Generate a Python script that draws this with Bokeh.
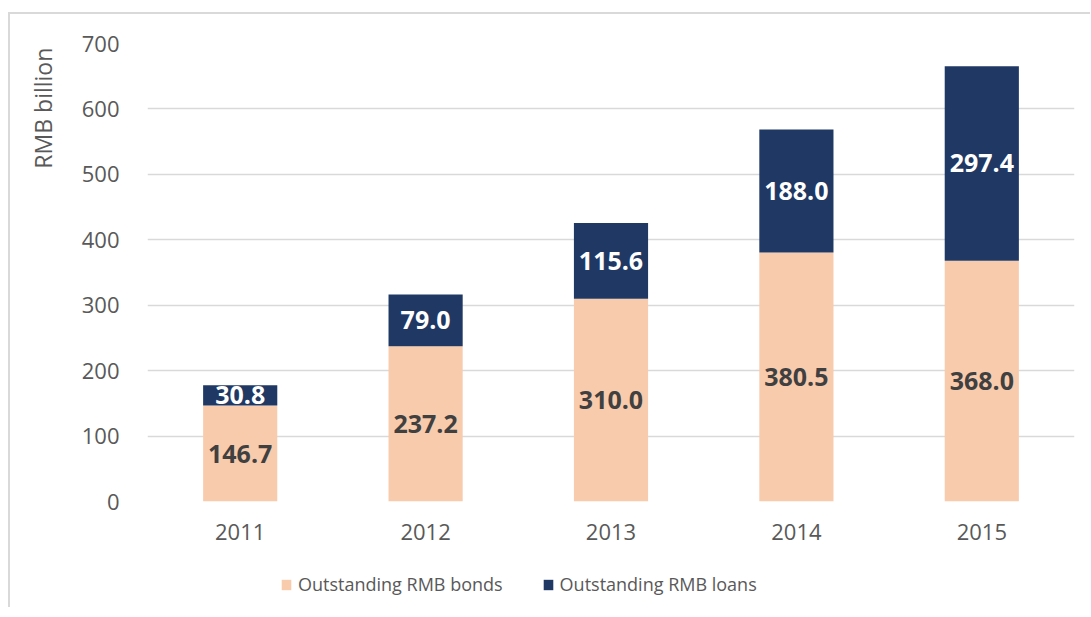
from bokeh.plotting import figure
from bokeh.models import ColumnDataSource, Legend, LegendItem, LabelSet, FactorRange, Range1d
from bokeh.layouts import column
from bokeh.core.properties import value
from bokeh.embed import file_html
from bokeh.resources import INLINE

years = ["2011", "2012", "2013", "2014", "2015"]
bonds = [146.7, 237.2, 310.0, 380.5, 368.0]
loans = [30.8, 79.0, 115.6, 188.0, 297.4]
y_ticks = [0, 100, 200, 300, 400, 500, 600, 700]
series_names = ["Outstanding RMB bonds", "Outstanding RMB loans"]
y_title = "RMB billion"

FONT = "Open Sans"
BOND_COLOR = "#F8CBAD"
LOAN_COLOR = "#1F3864"
TXT = "#595959"
BORDER = "2px solid #d9d9d9"

src = ColumnDataSource(dict(
    year=years,
    bonds=bonds,
    loans=loans,
    bond_mid=[b / 2 for b in bonds],
    loan_mid=[b + l / 2 for b, l in zip(bonds, loans)],
    bond_txt=[f"{b:.1f}" for b in bonds],
    loan_txt=[f"{l:.1f}" for l in loans],
))

p = figure(x_range=FactorRange(*years, range_padding=0), y_range=(0, 700),
           width=1082, height=531, output_backend="svg", toolbar_location=None,
           min_border_left=137, min_border_right=18, min_border_top=29, min_border_bottom=44)
p.margin = (12, 0, 0, 8)
p.styles = {"border-left": BORDER, "border-top": BORDER}
p.outline_line_color = None
p.background_fill_color = "white"
p.border_fill_color = "white"

rs = p.vbar_stack(["bonds", "loans"], x="year", width=0.4, source=src,
                  color=[BOND_COLOR, LOAN_COLOR], line_color=None)

p.add_layout(LabelSet(x="year", y="bond_mid", text="bond_txt", source=src,
                      text_align="center", text_baseline="middle",
                      text_font=value(FONT), text_font_style="bold", text_font_size="25px",
                      text_color="#404040"))
p.add_layout(LabelSet(x="year", y="loan_mid", text="loan_txt", source=src,
                      text_align="center", text_baseline="middle",
                      text_font=value(FONT), text_font_style="bold", text_font_size="25px",
                      text_color="white"))

p.xgrid.grid_line_color = None
p.ygrid.grid_line_color = "#d9d9d9"
p.ygrid.grid_line_width = 1.3
p.yaxis.ticker = y_ticks
p.yaxis.axis_line_color = None
p.yaxis.major_tick_line_color = None
p.yaxis.minor_tick_line_color = None
p.yaxis.major_label_standoff = 22
p.yaxis.major_label_text_font = FONT
p.yaxis.major_label_text_font_size = "22px"
p.yaxis.major_label_text_color = TXT
# leading non-breaking spaces push the centred title up towards the top of the axis
p.yaxis.axis_label = "\u00a0" * 55 + y_title
p.yaxis.axis_label_text_font = FONT
p.yaxis.axis_label_text_font_size = "23px"
p.yaxis.axis_label_text_font_style = "normal"
p.yaxis.axis_label_text_color = TXT
p.yaxis.axis_label_standoff = 20

p.xaxis.axis_line_color = None
p.xaxis.major_tick_line_color = None
p.xaxis.minor_tick_line_color = None
p.xaxis.major_label_standoff = 16
p.xaxis.major_label_text_font = FONT
p.xaxis.major_label_text_font_size = "22px"
p.xaxis.major_label_text_color = TXT

# legend strip below the chart (its own figure, so nothing gets clipped);
# its key renderers are zero-height proxies that draw nothing themselves
lg = figure(x_range=FactorRange(*years), y_range=Range1d(-1, 1),
            width=1082, height=64, output_backend="svg", toolbar_location=None,
            x_axis_location=None, y_axis_location=None, min_border=0)
lg.margin = (0, 0, 0, 8)
lg.styles = {"border-left": BORDER}
lg.outline_line_color = None
lg.grid.visible = False
k0 = lg.vbar(x=[years[0]], top=[0], width=0.4, color=BOND_COLOR, line_color=None)
k1 = lg.vbar(x=[years[0]], top=[0], width=0.4, color=LOAN_COLOR, line_color=None)
legend = Legend(items=[LegendItem(label=series_names[0], renderers=[k0]),
                       LegendItem(label=series_names[1], renderers=[k1])],
                orientation="horizontal", location=(133, 11),
                glyph_width=12, glyph_height=13, label_standoff=6, spacing=39,
                padding=0, margin=0, border_line_color=None, background_fill_alpha=0,
                label_text_font=FONT, label_text_font_size="18px", label_text_color=TXT)
lg.add_layout(legend, "center")

lay = column(p, lg, spacing=0)
open("out.html", "w").write(file_html(lay, INLINE))
